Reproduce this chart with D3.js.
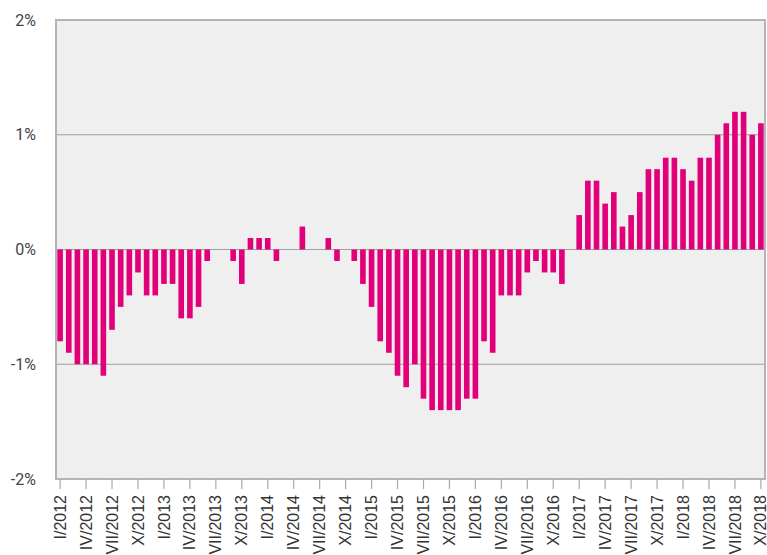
<!DOCTYPE html>
<html>
<head>
<meta charset="UTF-8">
<title>Monthly change</title>
<script src="https://cdn.jsdelivr.net/npm/d3@7"></script>
<style>
  body { margin: 0; background: #fff; }
  svg { display: block; }
  .ylab { font-family: Roboto, sans-serif; font-size: 16px; fill: #444; }
  .xlab { font-family: "Liberation Sans", Arial, sans-serif; font-size: 16px; fill: #333; }
</style>
</head>
<body>
<svg id="chart" width="767" height="555"></svg>
<script>
  // data: monthly values in %, I/2012 .. X/2018
  const years = [2012, 2013, 2014, 2015, 2016, 2017, 2018];
  const romans = ["I", "II", "III", "IV", "V", "VI", "VII", "VIII", "IX", "X", "XI", "XII"];
  const values = [
    -0.8, -0.9, -1.0, -1.0, -1.0, -1.1, -0.7, -0.5, -0.4, -0.2, -0.4, -0.4,
    -0.3, -0.3, -0.6, -0.6, -0.5, -0.1,  0.0,  0.0, -0.1, -0.3,  0.1,  0.1,
     0.1, -0.1,  0.0,  0.0,  0.2,  0.0,  0.0,  0.1, -0.1,  0.0, -0.1, -0.3,
    -0.5, -0.8, -0.9, -1.1, -1.2, -1.0, -1.3, -1.4, -1.4, -1.4, -1.4, -1.3,
    -1.3, -0.8, -0.9, -0.4, -0.4, -0.4, -0.2, -0.1, -0.2, -0.2, -0.3,  0.0,
     0.3,  0.6,  0.6,  0.4,  0.5,  0.2,  0.3,  0.5,  0.7,  0.7,  0.8,  0.8,
     0.7,  0.6,  0.8,  0.8,  1.0,  1.1,  1.2,  1.2,  1.0,  1.1
  ];
  const yTicks = [-2, -1, 0, 1, 2];

  const months = [];
  years.forEach(y => romans.forEach(r => months.push(r + "/" + y)));
  const categories = months.slice(0, values.length);
  const tickLabels = categories.filter((d, i) => i % 3 === 0);

  const m = { left: 56, right: 765, top: 20, bottom: 479 };
  const svg = d3.select("#chart");

  const x = d3.scaleBand().domain(categories).range([m.left, m.right])
    .paddingInner(0.35).paddingOuter(0.15);
  const y = d3.scaleLinear().domain([-2, 2]).range([m.bottom, m.top]);

  // plot background
  svg.append("rect")
    .attr("x", m.left).attr("y", m.top)
    .attr("width", m.right - m.left).attr("height", m.bottom - m.top)
    .attr("fill", "#efefef");

  // grid lines
  svg.selectAll(".grid")
    .data(yTicks.filter(d => d > -2 && d < 2))
    .enter().append("line")
    .attr("x1", m.left).attr("x2", m.right)
    .attr("y1", d => y(d)).attr("y2", d => y(d))
    .attr("stroke", "#a0a0a0").attr("stroke-width", 1.2);

  // bars
  svg.selectAll(".bar")
    .data(values)
    .enter().append("rect")
    .attr("x", (d, i) => x(categories[i]))
    .attr("width", x.bandwidth())
    .attr("y", d => y(Math.max(0, d)))
    .attr("height", d => Math.abs(y(d) - y(0)))
    .attr("fill", "#e2007a");

  // frame
  svg.append("rect")
    .attr("x", m.left).attr("y", m.top)
    .attr("width", m.right - m.left).attr("height", m.bottom - m.top)
    .attr("fill", "none").attr("stroke", "#b4b4b4").attr("stroke-width", 2);

  // y labels
  svg.selectAll(".ylab")
    .data(yTicks)
    .enter().append("text")
    .attr("class", "ylab")
    .attr("x", 36)
    .attr("y", d => y(d))
    .attr("dy", "0.35em")
    .attr("text-anchor", "end")
    .text(d => d + "%");

  // x axis ticks + labels
  const xAxis = d3.axisBottom(x).tickValues(tickLabels).tickSize(10).tickPadding(5);
  const gx = svg.append("g").attr("transform", `translate(0,${m.bottom})`).call(xAxis);
  gx.select(".domain").remove();
  gx.selectAll(".tick line").attr("stroke", "#aaa").attr("stroke-width", 1.2);
  gx.selectAll(".tick text")
    .attr("class", "xlab")
    .attr("fill", null)
    .attr("transform", "rotate(-90)")
    .attr("text-anchor", "end")
    .attr("x", -16)
    .attr("y", 0)
    .attr("dy", "0.35em");
</script>
</body>
</html>
